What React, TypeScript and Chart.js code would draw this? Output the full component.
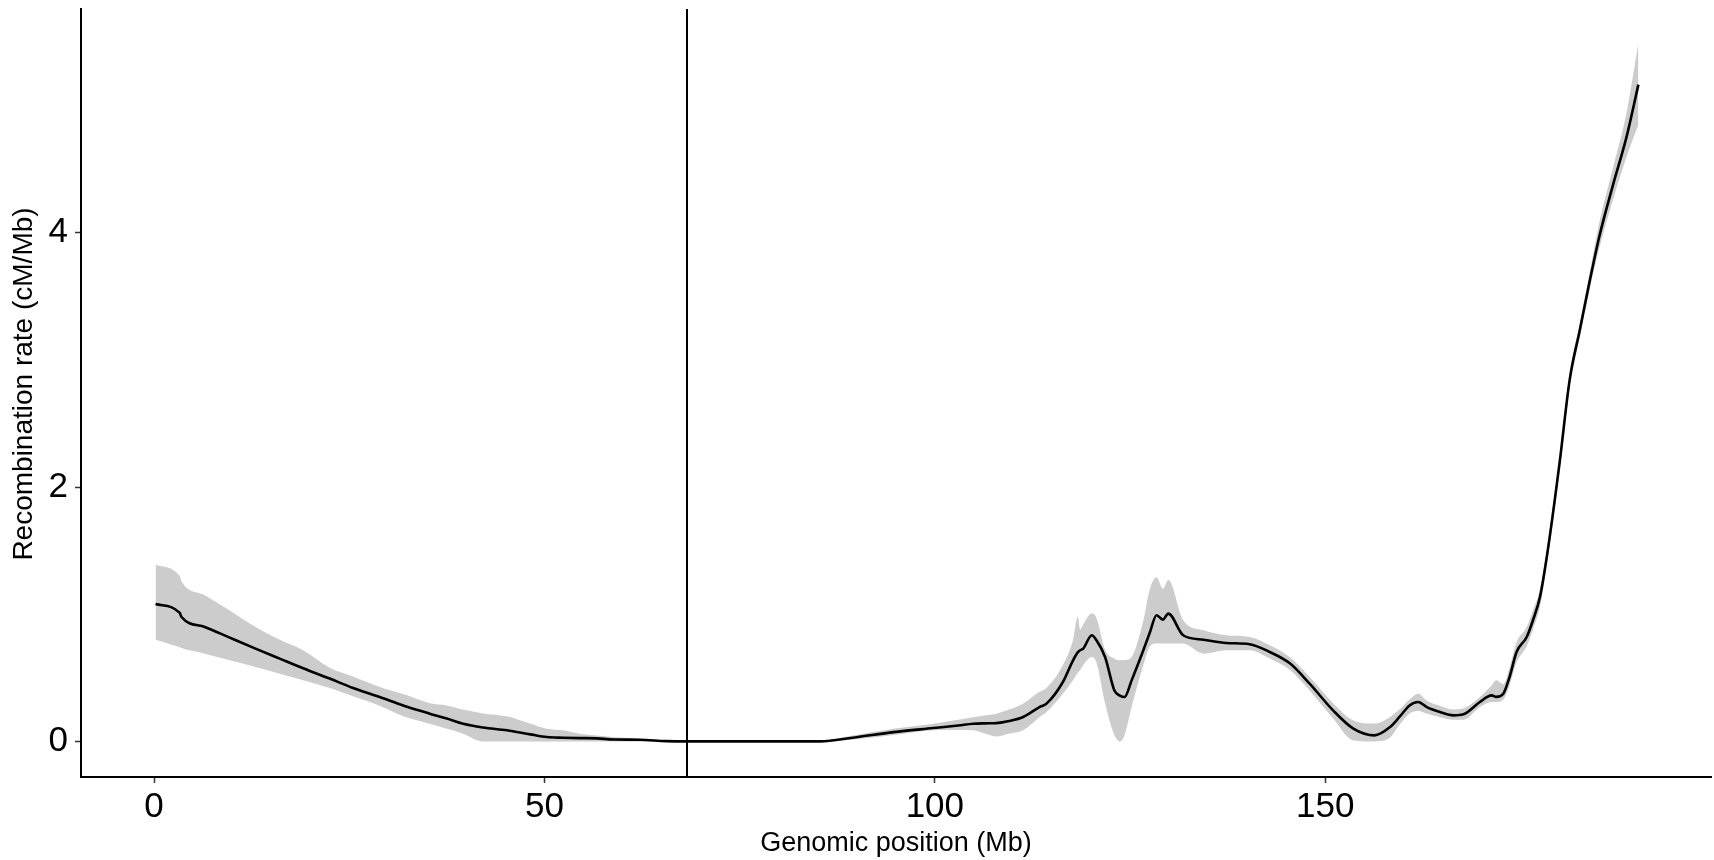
import React, { useEffect, useRef } from "react";
import { Chart, registerables } from "chart.js";

Chart.register(...registerables);

// Genomic position (Mb) of each sampled point
const POSITIONS = [
  0.2, 3.3, 3.5, 6.5, 9.7, 13, 16.1, 19.1, 22.5, 25.5, 28.9, 32, 35.3, 37.5, 39.6, 42.1,
  45.2, 48.2, 50.3, 52.4, 54.5, 56.7, 58.8, 62.2, 65.6, 68.2, 75, 85.3, 89.5, 94.7, 99.8,
  103, 104.9, 106.5, 107.9, 109.5, 111.3, 113.4, 114.3, 116.4, 117.7, 118.3, 118.6, 119.0,
  120.1, 120.7, 121.8, 123.0, 123.7, 124.3, 125.2, 126.7, 127.5, 128.4, 129.2, 129.9,
  131.8, 134.4, 137.3, 140.3, 142.9, 145.5, 148.0, 151.0, 153.6, 156.3, 158.3, 159.5,
  160.8, 161.9, 163.0, 164.7, 166.4, 167.7, 169.8, 171.3, 171.9, 172.8, 173.6, 174.5,
  175.8, 176.6, 177.5, 178.5, 180.0, 181.3, 182.6, 183.9, 185.1, 186.8, 188.6, 190.1,
];

// Recombination rate (cM/Mb)
const RATE = [
  1.08, 1.01, 0.98, 0.9, 0.816, 0.73, 0.651, 0.575, 0.494, 0.42, 0.349, 0.28, 0.218, 0.18, 0.139, 0.11,
  0.087, 0.055, 0.034, 0.029, 0.026, 0.024, 0.015, 0.013, 0.002, 0, 0, 0, 0.029, 0.073, 0.105,
  0.125, 0.139, 0.142, 0.144, 0.16, 0.192, 0.27, 0.297, 0.467, 0.638, 0.7, 0.717, 0.73,
  0.835, 0.795, 0.664, 0.4, 0.36, 0.349, 0.48, 0.717, 0.85, 0.992, 0.958, 1.005,
  0.835, 0.8, 0.774, 0.764, 0.703, 0.612, 0.454, 0.244, 0.1, 0.047, 0.113, 0.192,
  0.283, 0.31, 0.27, 0.231, 0.205, 0.213, 0.31, 0.362, 0.35, 0.375, 0.506, 0.703,
  0.821, 0.953, 1.136, 1.504, 2.186, 2.843, 3.236, 3.63, 3.971, 4.365, 4.758, 5.165,
];

// Confidence band, upper edge
const UPPER = [
  1.39, 1.3, 1.262, 1.15, 1.03, 0.9, 0.8, 0.717, 0.58, 0.51, 0.428, 0.37, 0.3, 0.283, 0.25, 0.22,
  0.197, 0.139, 0.1, 0.087, 0.06, 0.047, 0.035, 0.02, 0.005, 0, 0, 0.005, 0.047, 0.1, 0.139,
  0.17, 0.19, 0.205, 0.218, 0.25, 0.297, 0.39, 0.42, 0.6, 0.8, 0.98, 0.88, 0.92,
  1.005, 0.97, 0.72, 0.65, 0.638, 0.64, 0.664, 0.95, 1.19, 1.29, 1.2, 1.27,
  0.953, 0.874, 0.835, 0.822, 0.756, 0.66, 0.506, 0.3, 0.165, 0.14, 0.192, 0.25,
  0.33, 0.375, 0.32, 0.28, 0.25, 0.26, 0.35, 0.44, 0.48, 0.45, 0.58, 0.78,
  0.9, 1.03, 1.2, 1.56, 2.24, 2.89, 3.29, 3.7, 4.08, 4.5, 4.95, 5.494,
];

// Confidence band, lower edge
const LOWER = [
  0.8, 0.74, 0.735, 0.69, 0.638, 0.585, 0.533, 0.48, 0.42, 0.355, 0.28, 0.195, 0.139, 0.1, 0.061, 0,
  0, 0, 0, 0, 0, 0, 0, 0, 0, 0, 0, 0, 0.015, 0.05, 0.087,
  0.09, 0.087, 0.06, 0.039, 0.06, 0.087, 0.19, 0.231, 0.375, 0.48, 0.54, 0.56, 0.6,
  0.664, 0.62, 0.3, 0.05, 0, 0.05, 0.27, 0.6, 0.743, 0.77, 0.77, 0.77,
  0.769, 0.69, 0.717, 0.717, 0.651, 0.56, 0.4, 0.18, 0.008, 0, 0.03, 0.13,
  0.22, 0.24, 0.22, 0.19, 0.17, 0.17, 0.27, 0.31, 0.31, 0.33, 0.44, 0.62,
  0.75, 0.88, 1.06, 1.44, 2.13, 2.79, 3.18, 3.57, 3.88, 4.25, 4.6, 4.85,
];

const X_TICKS = [0, 50, 100, 150];
const Y_TICKS = [0, 2, 4];
const X_MIN = -9.35;
const X_MAX = 199.4;
const Y_MIN = -0.28;
const Y_MAX = 5.76;
const CENTROMERE = 68.2;
const X_LABEL = "Genomic position (Mb)";
const Y_LABEL = "Recombination rate (cM/Mb)";

const FONT_FAMILY = '"Liberation Sans", Arial, Helvetica, sans-serif';

export default function App() {
  const ref = useRef<HTMLCanvasElement>(null);

  useEffect(() => {
    if (!ref.current) return;
    const toPts = (ys: number[]) => POSITIONS.map((x, i) => ({ x, y: ys[i] }));

    const centromereLine = {
      id: "centromereLine",
      afterDatasetsDraw(chart: any) {
        const { ctx, chartArea, scales } = chart;
        const px = Math.round(scales.x.getPixelForValue(CENTROMERE));
        ctx.save();
        ctx.strokeStyle = "#000";
        ctx.lineWidth = 2;
        ctx.beginPath();
        ctx.moveTo(px, chartArea.top);
        ctx.lineTo(px, chartArea.bottom);
        ctx.stroke();
        ctx.restore();
      },
    };

    const yTitle = {
      id: "yTitle",
      afterDraw(chart: any) {
        const { ctx } = chart;
        ctx.save();
        ctx.translate(24, 384);
        ctx.rotate(-Math.PI / 2);
        ctx.font = `28px ${FONT_FAMILY}`;
        ctx.fillStyle = "#000";
        ctx.textAlign = "center";
        ctx.textBaseline = "middle";
        ctx.fillText(Y_LABEL, 0, 0);
        ctx.restore();
      },
    };

    const tickFont = { family: FONT_FAMILY, size: 35 };
    const titleFont = { family: FONT_FAMILY, size: 27 };

    const chart = new Chart(ref.current, {
      type: "line",
      data: {
        datasets: [
          {
            label: "rate",
            data: toPts(RATE),
            borderColor: "#000",
            borderWidth: 2.6,
            pointRadius: 0,
            fill: false,
            cubicInterpolationMode: "monotone",
          },
          {
            label: "upper",
            data: toPts(UPPER),
            borderColor: "rgba(0,0,0,0)",
            borderWidth: 0,
            backgroundColor: "#cccccc",
            pointRadius: 0,
            fill: "+1",
            cubicInterpolationMode: "monotone",
          },
          {
            label: "lower",
            data: toPts(LOWER),
            borderColor: "rgba(0,0,0,0)",
            borderWidth: 0,
            pointRadius: 0,
            fill: false,
            cubicInterpolationMode: "monotone",
          },
        ],
      },
      options: {
        animation: false,
        responsive: false,
        devicePixelRatio: 1,
        layout: { padding: { left: 0, right: 3, top: 9, bottom: 0 } },
        plugins: { legend: { display: false }, tooltip: { enabled: false } },
        scales: {
          x: {
            type: "linear",
            min: X_MIN,
            max: X_MAX,
            afterBuildTicks: (s: any) => {
              s.ticks = X_TICKS.map((v) => ({ value: v }));
            },
            afterFit: (s: any) => {
              s.height = 83;
              s.paddingLeft = 0;
              s.paddingRight = 0;
            },
            border: { display: true, color: "#000", width: 2 },
            grid: {
              display: true,
              drawOnChartArea: false,
              drawTicks: true,
              tickLength: 6,
              tickColor: "#333",
              tickWidth: 1.5,
            },
            ticks: {
              font: tickFont,
              color: "#000",
              padding: 3,
              maxRotation: 0,
              autoSkip: false,
              callback: (v: any) => String(v),
            },
            title: {
              display: true,
              text: X_LABEL,
              font: titleFont,
              color: "#000",
              padding: { top: 0, bottom: 0 },
            },
          },
          y: {
            type: "linear",
            min: Y_MIN,
            max: Y_MAX,
            afterBuildTicks: (s: any) => {
              s.ticks = Y_TICKS.map((v) => ({ value: v }));
            },
            afterFit: (s: any) => {
              s.width = 81;
              s.paddingTop = 0;
              s.paddingBottom = 0;
            },
            border: { display: true, color: "#000", width: 2 },
            grid: {
              display: true,
              drawOnChartArea: false,
              drawTicks: true,
              tickLength: 6,
              tickColor: "#333",
              tickWidth: 1.5,
            },
            ticks: {
              font: tickFont,
              color: "#000",
              padding: 7,
              autoSkip: false,
              callback: (v: any) => String(v),
            },
            title: { display: false },
          },
        },
      },
      plugins: [centromereLine, yTitle],
    } as any);

    return () => chart.destroy();
  }, []);

  return (
    <div style={{ position: "absolute", left: 0, top: 0, width: 1714, height: 860, background: "#fff" }}>
      <canvas ref={ref} width={1714} height={860} style={{ display: "block" }} />
    </div>
  );
}
